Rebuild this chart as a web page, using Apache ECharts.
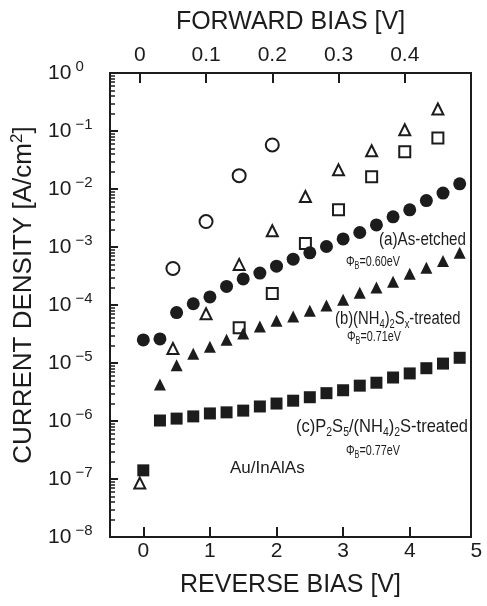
<!DOCTYPE html>
<html><head><meta charset="utf-8">
<script src="https://cdn.jsdelivr.net/npm/echarts@6/dist/echarts.min.js"></script>
<style>html,body{margin:0;padding:0;background:#fff}#c{width:487px;height:606px}</style>
</head><body><div id="c"></div>
<script>
// ---- data ----
const reverseBias = [0,0.25,0.5,0.75,1,1.25,1.5,1.75,2,2.25,2.5,2.75,3,3.25,3.5,3.75,4,4.25,4.5,4.75];
// (a) As-etched, reverse (filled circles)
const asEtchedReverse = [2.5e-5,2.6e-5,7.4e-5,1.05e-4,1.38e-4,2.09e-4,2.82e-4,3.55e-4,4.68e-4,6.17e-4,7.94e-4,1.02e-3,1.38e-3,1.78e-3,2.40e-3,3.31e-3,4.37e-3,6.31e-3,8.51e-3,1.23e-2];
// (b) (NH4)2Sx-treated, reverse (filled triangles)
const nh4SxReverseBias = [0.25,0.5,0.75,1,1.25,1.5,1.75,2,2.25,2.5,2.75,3,3.25,3.5,3.75,4,4.25,4.5,4.75];
const nh4SxReverse = [4.27e-6,9.12e-6,1.45e-5,1.91e-5,2.51e-5,3.24e-5,4.27e-5,5.37e-5,6.31e-5,7.94e-5,9.77e-5,1.23e-4,1.62e-4,2.0e-4,2.51e-4,3.47e-4,4.37e-4,5.75e-4,7.94e-4];
// (c) P2S5/(NH4)2S-treated, reverse (filled squares)
const p2s5Reverse = [1.41e-7,1.02e-6,1.10e-6,1.20e-6,1.35e-6,1.41e-6,1.51e-6,1.78e-6,2.0e-6,2.24e-6,2.57e-6,3.02e-6,3.39e-6,4.07e-6,4.57e-6,5.62e-6,6.61e-6,8.13e-6,9.77e-6,1.23e-5];
// forward bias (open symbols, top axis)
const asEtchedForwardBias = [0.05,0.1,0.15,0.2];
const asEtchedForward = [4.27e-4,2.75e-3,1.70e-2,5.75e-2];
const nh4SxForwardBias = [0,0.05,0.1,0.15,0.2,0.25,0.3,0.35,0.4,0.45];
const nh4SxForward = [8.5e-8,1.78e-5,7.08e-5,5.01e-4,1.91e-3,7.41e-3,2.14e-2,4.57e-2,0.105,0.24];
const p2s5ForwardBias = [0.15,0.2,0.25,0.3,0.35,0.4,0.45];
const p2s5Forward = [4.07e-5,1.58e-4,1.15e-3,4.37e-3,1.62e-2,4.37e-2,7.59e-2];
const reverseExtraTickLabel = 5;

// ---- style ----
const INK = '#1c1c1c';
const F = '"Liberation Sans", Arial, sans-serif';
const zip = (xs, ys) => xs.map((x, i) => [x, ys[i]]);

// minor log ticks (axis decoration)
const minorTicks = [];
for (let e = -8; e < 0; e++) for (let m = 2; m <= 9; m++) minorTicks.push(m * Math.pow(10, e));

const chart = echarts.init(document.getElementById('c'), null, {renderer: 'canvas'});

const filled = (sym, size) => ({symbol: sym, symbolSize: size, itemStyle: {color: INK, opacity: 1}});
const open = (sym, size) => ({symbol: sym, symbolSize: size, itemStyle: {color: 'rgba(0,0,0,0)', borderColor: INK, borderWidth: 2, opacity: 1}});

const option = {
  animation: false,
  backgroundColor: '#fff',
  grid: {left: 110, right: 16, top: 73, bottom: 69, show: true, borderColor: INK, borderWidth: 2, backgroundColor: 'rgba(0,0,0,0)'},
  xAxis: [
    {type: 'value', position: 'bottom', min: -0.5, max: 4.92, splitNumber: 5,
     name: 'REVERSE BIAS [V]', nameLocation: 'middle', nameGap: 36,
     nameTextStyle: {fontFamily: F, fontSize: 25, color: INK},
     axisLine: {show: false, onZero: false}, splitLine: {show: false},
     axisTick: {inside: true, length: 10, lineStyle: {color: INK, width: 2}},
     axisLabel: {showMinLabel: false, showMaxLabel: false, margin: 4, fontFamily: F, fontSize: 21, color: INK,
       formatter: v => (Math.abs(v - Math.round(v)) < 1e-9 ? String(Math.round(v)) : '')}},
    {type: 'value', position: 'top', min: -0.045, max: 0.5, splitNumber: 5,
     name: 'FORWARD BIAS [V]', nameLocation: 'middle', nameGap: 38,
     nameTextStyle: {fontFamily: F, fontSize: 25, color: INK},
     axisLine: {show: false, onZero: false}, splitLine: {show: false},
     axisTick: {inside: true, length: 10, lineStyle: {color: INK, width: 2}},
     axisLabel: {showMinLabel: false, showMaxLabel: false, margin: 7, fontFamily: F, fontSize: 21, color: INK}}
  ],
  yAxis: [
    {type: 'log', logBase: 10, min: 1e-8, max: 1, splitNumber: 8, position: 'left',
     name: '{t|CURRENT DENSITY [A/cm}{u|2}{t|]}', nameLocation: 'middle', nameGap: 64, nameRotate: 90,
     nameTextStyle: {padding: [0, 0, 0, 20], rich: {
       t: {fontFamily: F, fontSize: 26, color: INK, lineHeight: 30},
       u: {fontFamily: F, fontSize: 17, color: INK, lineHeight: 17, verticalAlign: 'top'}}},
     axisLine: {show: false, onZero: false}, splitLine: {show: false},
     axisTick: {inside: true, length: 8, lineStyle: {color: INK, width: 2}},
     axisLabel: {align: 'left', margin: 62,
       formatter: v => { const e = Math.round(Math.log10(v)); return '{b|10}{s|' + (e === 0 ? ' 0' : ' \u2212' + (-e)) + '}'; },
       rich: {b: {fontFamily: F, fontSize: 21, color: INK, lineHeight: 28},
              s: {fontFamily: F, fontSize: 15, color: INK, lineHeight: 15, verticalAlign: 'top'}}}},
    {type: 'log', logBase: 10, min: 1e-8, max: 1, position: 'left',
     axisLine: {show: false, onZero: false}, splitLine: {show: false}, axisLabel: {show: false},
     axisTick: {show: true, inside: true, length: 5, customValues: minorTicks, lineStyle: {color: INK, width: 1.5}}}
  ],
  series: [
    Object.assign({type: 'scatter', xAxisIndex: 0, yAxisIndex: 0, data: zip(reverseBias, asEtchedReverse)}, filled('circle', 13)),
    Object.assign({type: 'scatter', xAxisIndex: 0, yAxisIndex: 0, data: zip(nh4SxReverseBias, nh4SxReverse)}, filled('triangle', 12)),
    Object.assign({type: 'scatter', xAxisIndex: 0, yAxisIndex: 0, data: zip(reverseBias, p2s5Reverse)}, filled('rect', 12)),
    Object.assign({type: 'scatter', xAxisIndex: 1, yAxisIndex: 0, data: zip(asEtchedForwardBias, asEtchedForward)}, open('circle', 13)),
    Object.assign({type: 'scatter', xAxisIndex: 1, yAxisIndex: 0, data: zip(nh4SxForwardBias, nh4SxForward)}, open('triangle', 11)),
    Object.assign({type: 'scatter', xAxisIndex: 1, yAxisIndex: 0, data: zip(p2s5ForwardBias, p2s5Forward)}, open('rect', 11))
  ]
};
option.series.forEach(s => { s.emphasis = {disabled: true}; s.silent = true; s.z = 3; });
chart.setOption(option);

// ---- annotations ----
const annRich = {
  t: {fontFamily: F, fontSize: 19, color: INK, lineHeight: 24},
  s: {fontFamily: F, fontSize: 12, color: INK, lineHeight: 12, verticalAlign: 'bottom'}
};
const phiRich = {
  t: {fontFamily: F, fontSize: 15, color: INK, lineHeight: 18},
  s: {fontFamily: F, fontSize: 10, color: INK, lineHeight: 10, verticalAlign: 'bottom'}
};
const txt = (x, y, text, rich, sx) => ({type: 'text', x: x, y: y, scaleX: sx, silent: true, z: 10,
  style: {text: text, rich: rich, textAlign: 'left', textVerticalAlign: 'middle', fill: INK}});

const x5 = chart.convertToPixel({xAxisIndex: 0}, reverseExtraTickLabel);
const yBottom = chart.convertToPixel({yAxisIndex: 0}, 1e-8);

chart.setOption({graphic: [
  txt(379, 240, '{t|(a)As-etched}', annRich, 0.8),
  txt(346, 262, '{t|\u03A6}{s|B}{t|=0.60eV}', phiRich, 0.72),
  txt(335, 319, '{t|(b)(NH}{s|4}{t|)}{s|2}{t|S}{s|x}{t|-treated}', annRich, 0.78),
  txt(347, 337, '{t|\u03A6}{s|B}{t|=0.71eV}', phiRich, 0.72),
  txt(296, 427, '{t|(c)P}{s|2}{t|S}{s|5}{t|/(NH}{s|4}{t|)}{s|2}{t|S-treated}', annRich, 0.87),
  txt(346, 451, '{t|\u03A6}{s|B}{t|=0.77eV}', phiRich, 0.72),
  {type: 'text', x: 230, y: 468, silent: true, z: 10,
   style: {text: 'Au/InAlAs', font: '17px ' + F, fill: INK, textAlign: 'left', textVerticalAlign: 'middle'}},
  {type: 'text', x: x5, y: yBottom + 4, silent: true, z: 10,
   style: {text: String(reverseExtraTickLabel), font: '21px ' + F, fill: INK, textAlign: 'center', textVerticalAlign: 'top'}}
]});
</script>
</body></html>
